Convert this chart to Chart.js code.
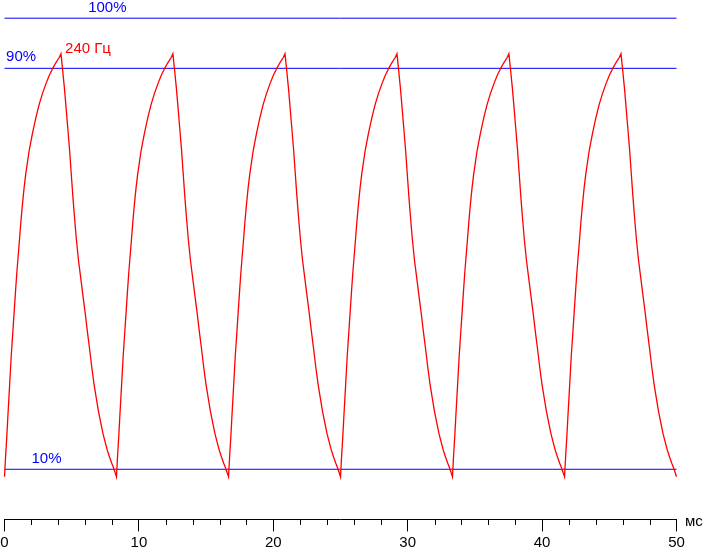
<!DOCTYPE html>
<html><head><meta charset="utf-8">
<script src="https://cdn.jsdelivr.net/npm/chart.js@4/dist/chart.umd.min.js"></script>
<style>html,body{margin:0;padding:0;background:#fff;overflow:hidden}canvas{display:block}</style>
</head><body>
<canvas id="c" width="703" height="548"></canvas>
<script>
// time (ms) of each read point
const timeMs = [
  0.00,0.08,0.17,0.25,0.34,0.42,0.50,0.60,0.70,0.80,0.90,1.00,1.10,1.22,1.34,1.46,1.58,1.83,2.08,2.33,2.58,2.83,3.08,3.32,3.57,3.82,4.08,4.20,
  4.32,4.46,4.58,4.71,4.84,4.96,5.09,5.22,5.35,5.51,5.68,5.84,6.01,6.17,6.34,6.50,6.66,6.83,6.99,7.16,7.32,7.49,7.65,7.82,7.98,8.14,
  8.33,8.41,8.50,8.58,8.67,8.75,8.83,8.93,9.03,9.13,9.23,9.33,9.43,9.55,9.67,9.79,9.91,10.16,10.41,10.66,10.91,11.16,11.41,11.65,11.90,12.15,12.41,12.53,
  12.65,12.79,12.91,13.04,13.17,13.29,13.42,13.55,13.68,13.84,14.01,14.17,14.34,14.50,14.67,14.83,14.99,15.16,15.32,15.49,15.65,15.82,15.98,16.15,16.31,16.47,
  16.67,16.75,16.84,16.92,17.01,17.09,17.17,17.27,17.37,17.47,17.57,17.67,17.77,17.89,18.01,18.13,18.25,18.50,18.75,19.00,19.25,19.50,19.75,19.99,20.24,20.49,20.75,20.87,
  20.99,21.13,21.25,21.38,21.51,21.63,21.76,21.89,22.02,22.18,22.35,22.51,22.68,22.84,23.01,23.17,23.33,23.50,23.66,23.83,23.99,24.16,24.32,24.49,24.65,24.81,
  25.00,25.08,25.17,25.25,25.34,25.42,25.50,25.60,25.70,25.80,25.90,26.00,26.10,26.22,26.34,26.46,26.58,26.83,27.08,27.33,27.58,27.83,28.08,28.32,28.57,28.82,29.08,29.20,
  29.32,29.46,29.58,29.71,29.84,29.96,30.09,30.22,30.35,30.51,30.68,30.84,31.01,31.17,31.34,31.50,31.66,31.83,31.99,32.16,32.32,32.49,32.65,32.82,32.98,33.14,
  33.33,33.41,33.50,33.58,33.67,33.75,33.83,33.93,34.03,34.13,34.23,34.33,34.43,34.55,34.67,34.79,34.91,35.16,35.41,35.66,35.91,36.16,36.41,36.65,36.90,37.15,37.41,37.53,
  37.65,37.79,37.91,38.04,38.17,38.29,38.42,38.55,38.68,38.84,39.01,39.17,39.34,39.50,39.67,39.83,39.99,40.16,40.32,40.49,40.65,40.82,40.98,41.15,41.31,41.47,
  41.67,41.75,41.84,41.92,42.01,42.09,42.17,42.27,42.37,42.47,42.57,42.67,42.77,42.89,43.01,43.13,43.25,43.50,43.75,44.00,44.25,44.50,44.75,44.99,45.24,45.49,45.75,45.87,
  45.99,46.13,46.25,46.38,46.51,46.63,46.76,46.89,47.02,47.18,47.35,47.51,47.68,47.84,48.01,48.17,48.33,48.50,48.66,48.83,48.99,49.16,49.32,49.49,49.65,49.81,
  50.00
];
// response level (%) at each point
const responsePct = [
  8.5,12.5,16.5,20.5,24.8,28.7,32.6,36.6,40.6,44.7,48.6,52.0,55.3,59.4,63.0,66.2,68.9,73.5,77.0,80.1,82.8,85.0,86.9,88.5,89.9,91.1,92.2,92.9,
  89.8,86.0,82.2,78.0,73.8,69.2,64.3,59.9,55.8,51.6,48.0,44.6,41.0,37.4,33.8,30.2,27.0,24.2,21.6,19.3,17.2,15.4,13.8,12.4,11.2,10.1,
  8.5,12.5,16.5,20.5,24.8,28.7,32.6,36.6,40.6,44.7,48.6,52.0,55.3,59.4,63.0,66.2,68.9,73.5,77.0,80.1,82.8,85.0,86.9,88.5,89.9,91.1,92.2,92.9,
  89.8,86.0,82.2,78.0,73.8,69.2,64.3,59.9,55.8,51.6,48.0,44.6,41.0,37.4,33.8,30.2,27.0,24.2,21.6,19.3,17.2,15.4,13.8,12.4,11.2,10.1,
  8.5,12.5,16.5,20.5,24.8,28.7,32.6,36.6,40.6,44.7,48.6,52.0,55.3,59.4,63.0,66.2,68.9,73.5,77.0,80.1,82.8,85.0,86.9,88.5,89.9,91.1,92.2,92.9,
  89.8,86.0,82.2,78.0,73.8,69.2,64.3,59.9,55.8,51.6,48.0,44.6,41.0,37.4,33.8,30.2,27.0,24.2,21.6,19.3,17.2,15.4,13.8,12.4,11.2,10.1,
  8.5,12.5,16.5,20.5,24.8,28.7,32.6,36.6,40.6,44.7,48.6,52.0,55.3,59.4,63.0,66.2,68.9,73.5,77.0,80.1,82.8,85.0,86.9,88.5,89.9,91.1,92.2,92.9,
  89.8,86.0,82.2,78.0,73.8,69.2,64.3,59.9,55.8,51.6,48.0,44.6,41.0,37.4,33.8,30.2,27.0,24.2,21.6,19.3,17.2,15.4,13.8,12.4,11.2,10.1,
  8.5,12.5,16.5,20.5,24.8,28.7,32.6,36.6,40.6,44.7,48.6,52.0,55.3,59.4,63.0,66.2,68.9,73.5,77.0,80.1,82.8,85.0,86.9,88.5,89.9,91.1,92.2,92.9,
  89.8,86.0,82.2,78.0,73.8,69.2,64.3,59.9,55.8,51.6,48.0,44.6,41.0,37.4,33.8,30.2,27.0,24.2,21.6,19.3,17.2,15.4,13.8,12.4,11.2,10.1,
  8.5,12.5,16.5,20.5,24.8,28.7,32.6,36.6,40.6,44.7,48.6,52.0,55.3,59.4,63.0,66.2,68.9,73.5,77.0,80.1,82.8,85.0,86.9,88.5,89.9,91.1,92.2,92.9,
  89.8,86.0,82.2,78.0,73.8,69.2,64.3,59.9,55.8,51.6,48.0,44.6,41.0,37.4,33.8,30.2,27.0,24.2,21.6,19.3,17.2,15.4,13.8,12.4,11.2,10.1,
  8.5
];
const levelLinesPct = [100, 90, 10];
const levelLabels = ['100%', '90%', '10%'];
const axisRangeMs = [0, 50];
const majorStepMs = 10;
const minorTicksMs = [2,4,6,8,12,14,16,18,22,24,26,28,32,34,36,38,42,44,46,48];
const seriesLabel = '240 Гц';
const unitLabel = 'мс';

const RED = '#ff0000', BLUE = '#0000ff', FONT = "'Liberation Sans', Arial, sans-serif";

const datasets = [{
  label: seriesLabel,
  data: timeMs.map((t, i) => ({x: t, y: responsePct[i]})),
  borderColor: RED, borderWidth: 1.3, pointRadius: 0, tension: 0, clip: false
}];
levelLinesPct.forEach(v => datasets.push({
  label: v + '%',
  data: [{x: axisRangeMs[0], y: v}, {x: axisRangeMs[1], y: v}],
  borderColor: BLUE, borderWidth: 1, pointRadius: 0, clip: false
}));

const annot = {
  id: 'annot',
  afterDraw(chart) {
    const {ctx, scales: {x, y}} = chart;
    ctx.save();
    // minor ticks
    ctx.strokeStyle = '#000'; ctx.lineWidth = 1;
    minorTicksMs.forEach(v => {
      const px = Math.round(x.getPixelForValue(v)) + 0.5;
      ctx.beginPath(); ctx.moveTo(px, Math.round(x.top)); ctx.lineTo(px, Math.round(x.top) + 6); ctx.stroke();
    });
    ctx.font = '15px ' + FONT;
    ctx.textBaseline = 'alphabetic'; ctx.textAlign = 'left';
    ctx.fillStyle = BLUE;
    ctx.fillText(levelLabels[0], x.getPixelForValue(6.3) - 1, y.getPixelForValue(100) - 6);
    ctx.fillText(levelLabels[1], x.getPixelForValue(0.19) - 1, y.getPixelForValue(90) - 7);
    ctx.fillText(levelLabels[2], x.getPixelForValue(2.08) - 1, y.getPixelForValue(10) - 6);
    ctx.fillStyle = RED;
    ctx.fillText(seriesLabel, x.getPixelForValue(4.58) - 1, y.getPixelForValue(90) - 15);
    ctx.fillStyle = '#000';
    ctx.fillText(unitLabel, x.right + 8.5, x.top + 6.5);
    ctx.restore();
  }
};

new Chart(document.getElementById('c'), {
  type: 'line',
  data: {datasets},
  options: {
    responsive: false, animation: false, devicePixelRatio: 1,
    layout: {padding: {left: 4.5, right: 26.5, top: 18.2, bottom: 0}},
    plugins: {legend: {display: false}, tooltip: {enabled: false}},
    scales: {
      x: {
        type: 'linear', min: axisRangeMs[0], max: axisRangeMs[1], position: 'bottom',
        ticks: {stepSize: majorStepMs, color: '#000', font: {family: FONT, size: 15}, padding: 2, maxRotation: 0, autoSkip: false},
        grid: {drawOnChartArea: false, drawTicks: true, tickLength: 12, color: '#000', tickColor: '#000', lineWidth: 1},
        border: {display: true, color: '#000', width: 1},
        afterFit(s) { s.height = 28.6; s.paddingLeft = 0; s.paddingRight = 0; }
      },
      y: {display: false, min: 0, max: 100}
    }
  },
  plugins: [annot]
});
</script>
</body></html>
